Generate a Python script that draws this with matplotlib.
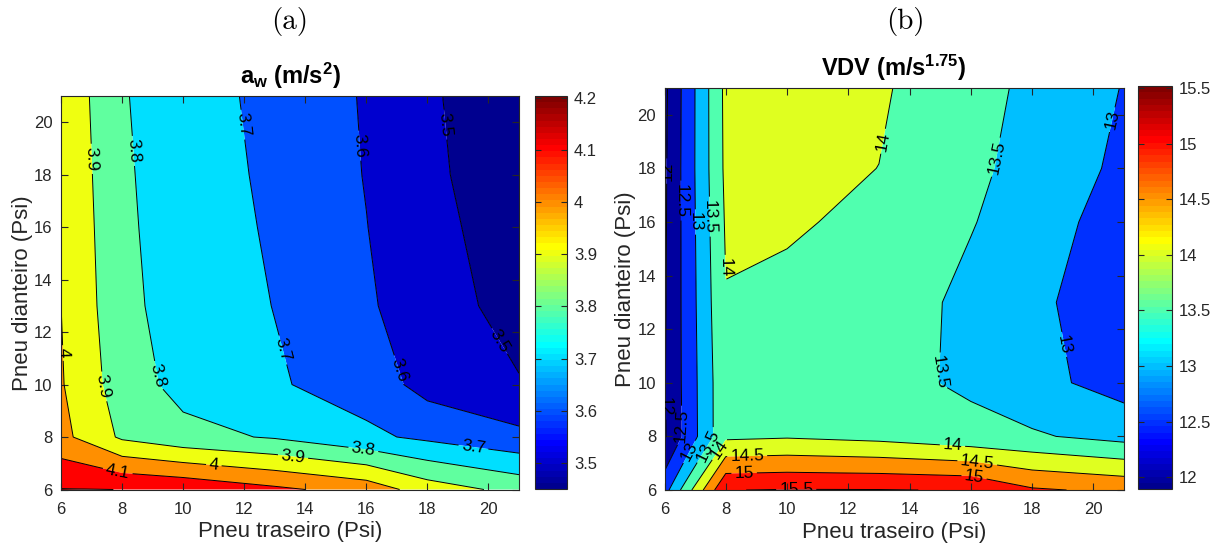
import numpy as np
import matplotlib
matplotlib.use("Agg")
import matplotlib.pyplot as plt
from matplotlib.colors import Normalize, ListedColormap
from matplotlib.cm import ScalarMappable
from matplotlib.ticker import FormatStrFormatter

plt.rcParams['font.family'] = ['Liberation Sans', 'DejaVu Sans']
plt.rcParams['mathtext.fontset'] = 'custom'
plt.rcParams['mathtext.rm'] = 'Liberation Sans'
plt.rcParams['mathtext.bf'] = 'Liberation Sans:bold'
plt.rcParams['mathtext.it'] = 'Liberation Sans:italic'

# pressões dos pneus (psi)
pneu_traseiro = [6, 8, 10, 13, 16, 18, 21]
pneu_dianteiro = [6, 8, 10, 13, 16, 18, 21]

# aceleração ponderada aw (m/s^2): linhas = dianteiro, colunas = traseiro
aw = [
    [4.203, 4.1995, 4.18, 4.12, 4.06, 3.95, 3.869],
    [4.029, 3.884, 3.83, 3.791, 3.72, 3.68, 3.625],
    [4.008, 3.85, 3.767, 3.71, 3.657, 3.564, 3.505],
    [4.0003, 3.83, 3.75, 3.698, 3.615, 3.538, 3.47],
    [3.996, 3.82, 3.747, 3.689, 3.602, 3.53, 3.45],
    [3.990, 3.815, 3.745, 3.6825, 3.5957, 3.515, 3.455],
    [3.978, 3.81, 3.727, 3.683, 3.590, 3.51, 3.45],
]

# dose de vibração VDV (m/s^1.75)
vdv = [
    [12.8, 15.49, 15.52, 15.515, 15.48, 15.06, 14.9],
    [11.95, 13.9, 13.95, 13.85, 13.65, 13.56, 13.33],
    [11.97, 13.9, 13.75, 13.65, 13.42, 13.15, 12.8],
    [11.95, 13.98, 13.8, 13.7, 13.41, 13.1, 12.72],
    [11.93, 14.05, 14.1, 13.81, 13.52, 13.32, 12.69],
    [11.92, 14.1, 14.1, 13.997, 13.6, 13.34, 12.89],
    [11.89, 14.12, 14.15, 14.05, 13.72, 13.37, 12.98],
]

niveis_aw = [3.5, 3.6, 3.7, 3.8, 3.9, 4.0, 4.1, 4.2]
niveis_vdv = [12, 12.5, 13, 13.5, 14, 14.5, 15, 15.5]

# onde ficam os rótulos das curvas
rotulos_aw = [(6.9, 18.6), (7.3, 9.9), (8.3, 18.9), (9.0, 10.3), (15.9, 7.5),
              (11.9, 19.9), (13.2, 11.3), (19.5, 7.55), (15.7, 19.1),
              (16.9, 10.5), (18.5, 19.9), (20.2, 11.55), (6.0, 11.2),
              (11.0, 6.85), (13.6, 7.25), (7.85, 6.65)]
rotulos_vdv = [(6.1, 17.9), (6.0, 9.1), (6.55, 16.8), (6.55, 8.4), (6.95, 16.0),
               (6.85, 7.4), (7.45, 16.2), (7.35, 7.7), (7.95, 14.3), (7.75, 7.55),
               (13.2, 19.0), (15.4, 7.65), (16.9, 18.4), (14.7, 10.4),
               (20.7, 19.8), (18.9, 11.4), (8.7, 7.2), (16.2, 6.95),
               (8.6, 6.6), (16.1, 6.45), (10.3, 6.15)]


def jet_matlab(m=64):
    # mesma construção do jet(m) do MATLAB
    n = int(np.ceil(m / 4))
    u = np.concatenate([np.arange(1, n + 1) / n, np.ones(n - 1), np.arange(n, 0, -1) / n])
    g = int(np.ceil(n / 2)) - (1 if m % 4 == 1 else 0) + np.arange(1, len(u) + 1)
    r = g + n
    b = g - n
    J = np.zeros((m, 3))
    J[r[r <= m] - 1, 0] = u[r <= m]
    J[g[g <= m] - 1, 1] = u[g <= m]
    J[b[b >= 1] - 1, 2] = u[b >= 1]
    return ListedColormap(J)


jet = jet_matlab(64)
cinza = '#262626'

fig = plt.figure(figsize=(12.11, 5.48), dpi=100)
W, H = 1211, 548


def eixo(x0, y0, x1, y1):
    return fig.add_axes([x0 / W, 1 - y1 / H, (x1 - x0) / W, (y1 - y0) / H])


def painel(ax, cax, dados, niveis, rotulos, titulo, ticks_cb):
    z = np.array(dados)
    X, Y = np.meshgrid(pneu_traseiro, pneu_dianteiro)
    zmin, zmax = z.min(), z.max()
    norm = Normalize(zmin, zmax)
    # cada faixa recebe a cor do seu nível inferior
    bordas = [zmin - 1] + niveis + [zmax + 1]
    cores = [jet(norm(zmin))] + [jet(norm(n)) for n in niveis]
    ax.contourf(X, Y, z, levels=bordas, colors=cores, antialiased=True)
    cs = ax.contour(X, Y, z, levels=niveis, colors='k', linewidths=0.7)
    ax.clabel(cs, manual=rotulos, inline=True, fmt='%g', fontsize=12.5,
              inline_spacing=3)

    ax.set_xlim(6, 21)
    ax.set_ylim(6, 21)
    ax.set_xticks(range(6, 21, 2))
    ax.set_yticks(range(6, 21, 2))
    ax.tick_params(direction='in', top=True, right=True, length=5,
                   labelsize=12, colors=cinza, labelcolor=cinza)
    ax.tick_params(axis='x', pad=9)
    ax.tick_params(axis='y', pad=6)
    for s in ax.spines.values():
        s.set_edgecolor(cinza)
    ax.set_xlabel('Pneu traseiro (Psi)', fontsize=16, color=cinza, labelpad=3)
    ax.set_ylabel('Pneu dianteiro (Psi)', fontsize=16, color=cinza, labelpad=1)
    ax.set_title(titulo, fontsize=17, fontweight='bold', pad=9)

    cb = fig.colorbar(ScalarMappable(norm=norm, cmap=jet), cax=cax, ticks=ticks_cb)
    cb.ax.yaxis.set_major_formatter(FormatStrFormatter('%g'))
    cb.ax.tick_params(direction='in', length=4, left=True, right=True,
                      labelsize=12, colors=cinza, labelcolor=cinza, pad=5)
    cb.outline.set_edgecolor(cinza)


ax_a = eixo(61, 96, 519, 489.5)
cax_a = eixo(535, 96, 567, 489)
ax_b = eixo(664.5, 88, 1124, 490)
cax_b = eixo(1138, 86, 1172, 489.3)

painel(ax_a, cax_a, aw, niveis_aw, rotulos_aw, r'$\mathbf{a_w\ (m/s^2)}$', niveis_aw)
painel(ax_b, cax_b, vdv, niveis_vdv, rotulos_vdv, r'$\mathbf{VDV\ (m/s^{1.75})}$', niveis_vdv)

fig.text(290 / W, 1 - 22 / H, '(a)', family='cmr10', fontsize=21, ha='center', va='center')
fig.text(905 / W, 1 - 22 / H, '(b)', family='cmr10', fontsize=21, ha='center', va='center')

fig.savefig('out.png', dpi=100)
